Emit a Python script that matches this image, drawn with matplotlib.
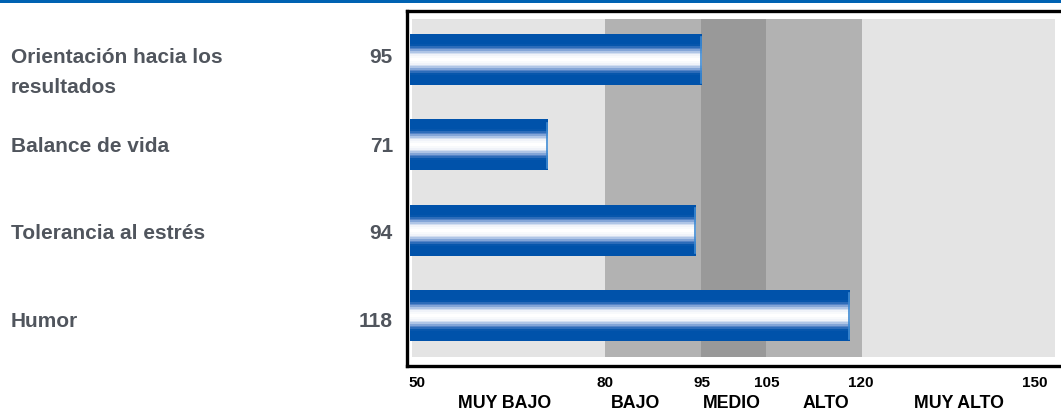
import numpy as np
import matplotlib.pyplot as plt
from matplotlib.colors import LinearSegmentedColormap
from matplotlib.patches import Rectangle
from matplotlib.transforms import blended_transform_factory

# scale data
categories = ["Orientación hacia los\nresultados", "Balance de vida",
              "Tolerancia al estrés", "Humor"]
scores = [95, 71, 94, 118]

band_edges = [50, 80, 95, 105, 120, 150]
band_names = ["MUY BAJO", "BAJO", "MEDIO", "ALTO", "MUY ALTO"]
band_colors = ["#E4E4E4", "#B2B2B2", "#999999", "#B2B2B2", "#E4E4E4"]
band_label_x = [64.4, 84.7, 99.8, 114.4, 135.1]
tick_label_x = [50, 80.0, 95.1, 105.2, 119.8, 150]

text_gray = "#50555D"
bar_blue = "#0052AA"

plt.rcParams['font.family'] = ['Liberation Sans', 'DejaVu Sans']

W, H = 1061, 411
fig = plt.figure(figsize=(W / 100, H / 100), dpi=100)


def fy(py):
    # pixel row (from top) -> figure fraction
    return 1 - py / H


# frame: left 407, right 1061, top 11, bottom 366 (pixels)
ax = fig.add_axes([407 / W, fy(366), (1061 - 407) / W, (366 - 11) / H])
xmin, xmax = 50 - 5 / 6.43, 50 + 649 / 6.43
ymin, ymax = 3.587, -0.574
ax.set_xticks([])
ax.set_yticks([])
for side in ["left", "top", "bottom"]:
    ax.spines[side].set_linewidth(2.4)
    ax.spines[side].set_color("black")
ax.spines["right"].set_visible(False)

# background ranges
for i in range(len(band_names)):
    lo, hi = band_edges[i], band_edges[i + 1]
    ax.add_patch(Rectangle((lo, -0.48), hi - lo, 3.96,
                           facecolor=band_colors[i], edgecolor="none", zorder=0))

# tube-like gradient for the bars: solid blue edges, white core
cmap = LinearSegmentedColormap.from_list("tube", ["white", "#EEF2F9", "#A8C0E4",
                                                  "#4C7EC4", bar_blue])
rows = 30
t = np.linspace(0, 1, rows)
d = np.abs(t - 0.5) * 2
grad = np.clip((d - 0.05) / 0.55, 0, 1).reshape(-1, 1)

bar_h = 0.59
bar_left = 50 - 2.4 / 6.43
for i, v in enumerate(scores):
    ax.imshow(grad, cmap=cmap, vmin=0, vmax=1, aspect="auto",
              interpolation="nearest",
              extent=(bar_left, v, i + bar_h / 2, i - bar_h / 2), zorder=2)
    ax.plot([v, v], [i - bar_h / 2 + 0.03, i + bar_h / 2 - 0.03],
            color="#3E8AD2", lw=1.2, zorder=3)

ax.set_xlim(xmin, xmax)
ax.set_ylim(ymin, ymax)

# category names and scores on the left (baselines in pixels)
name_base = [63.3, 151.7, 239.3, 326.7]
for i, name in enumerate(categories):
    lines = name.split("\n")
    for k, line in enumerate(lines):
        fig.text(11 / W, fy(name_base[i] + k * 29.4), line, ha="left",
                 va="baseline", fontsize=15, fontweight="bold", color=text_gray)
    fig.text(393 / W, fy(name_base[i]), str(scores[i]), ha="right",
             va="baseline", fontsize=15, fontweight="bold", color=text_gray)

# scale ticks under the box
trans = blended_transform_factory(ax.transData, fig.transFigure)
for j, e in enumerate(band_edges):
    x, ha = tick_label_x[j], "center"
    if j == 0:
        x, ha = 50 - 4 / 6.43, "left"
    elif j == len(band_edges) - 1:
        x, ha = 50 + 636 / 6.43, "right"
    ax.text(x, fy(387.3), str(e), ha=ha, va="baseline", fontsize=11,
            fontweight="bold", color="black", transform=trans, clip_on=False)

for name, x in zip(band_names, band_label_x):
    ax.text(x, fy(408.3), name, ha="center", va="baseline", fontsize=12.8,
            fontweight="bold", color="black", transform=trans, clip_on=False)

# blue rule along the top edge
fig.add_artist(Rectangle((0, fy(3)), 1, 3 / H, transform=fig.transFigure,
                         facecolor="#0062B2", edgecolor="none"))

fig.savefig("out.png", dpi=100)
